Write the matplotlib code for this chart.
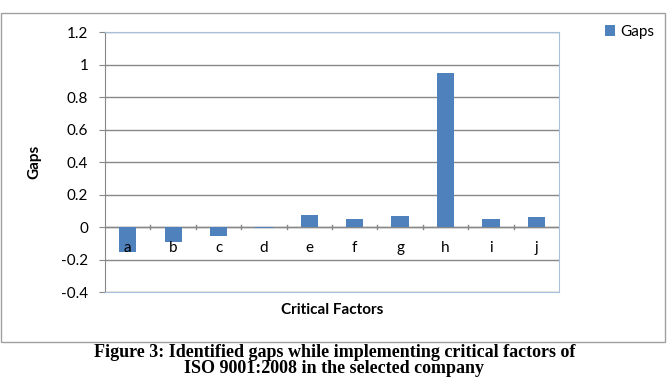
import matplotlib.pyplot as plt
from matplotlib.patches import Rectangle

# values
factors = ['a', 'b', 'c', 'd', 'e', 'f', 'g', 'h', 'i', 'j']
gaps = [-0.155, -0.09, -0.055, -0.005, 0.072, 0.05, 0.067, 0.948, 0.05, 0.062]
y_ticks = [-0.4, -0.2, 0, 0.2, 0.4, 0.6, 0.8, 1, 1.2]

plt.rcParams['font.family'] = ['Lato', 'DejaVu Sans']

fig = plt.figure(figsize=(6.69, 3.78), dpi=100)
ax = fig.add_axes([0.157, 0.2275, 0.6786, 0.6878])

# chart border
fig.patches.append(Rectangle((0.001, 0.095), 0.993, 0.87, transform=fig.transFigure,
                             fill=False, edgecolor='#a0a0a0', linewidth=1))

x = range(len(factors))
ax.bar(x, gaps, width=0.38, color='#4f81bd', label='Gaps', zorder=3)

ax.set_xlim(-0.5, len(factors) - 0.5)
ax.set_ylim(-0.4, 1.2)
ax.set_yticks(y_ticks)
ax.set_yticklabels(['-0.4', '-0.2', '0', '0.2', '0.4', '0.6', '0.8', '1', '1.2'], fontsize=11)
ax.yaxis.grid(True, color='#888888', linewidth=1, zorder=0)
ax.tick_params(axis='y', length=4, color='#888888', pad=8)

# category axis sits at zero
ax.set_xticks([])
ax.axhline(0, color='#888888', linewidth=1, zorder=2)
for k in range(1, len(factors)):
    ax.plot([k - 0.5, k - 0.5], [-0.012, 0.012], color='#888888', linewidth=1, zorder=2)
for k, f in enumerate(factors):
    ax.text(k, -0.085, f, ha='center', va='top', fontsize=11, zorder=4)

for side in ['top', 'right', 'bottom']:
    ax.spines[side].set_color('#a8c0dc')
ax.spines['left'].set_color('#888888')

ax.set_ylabel('Gaps', fontsize=11, fontweight='bold', labelpad=14)
ax.set_xlabel('Critical Factors', fontsize=11, fontweight='bold', labelpad=8)

fig.legend(loc='upper right', bbox_to_anchor=(0.998, 0.97), frameon=False,
           fontsize=11, handlelength=0.7, handleheight=0.7, handletextpad=0.3)

fig.text(0.5, 0.068, 'Figure 3: Identified gaps while implementing critical factors of',
         ha='center', va='center', fontsize=13, fontweight='bold', family='Liberation Serif')
fig.text(0.5, 0.003, 'ISO 9001:2008 in the selected company',
         ha='center', va='bottom', fontsize=13, fontweight='bold', family='Liberation Serif')

fig.savefig('out.png', dpi=100)
